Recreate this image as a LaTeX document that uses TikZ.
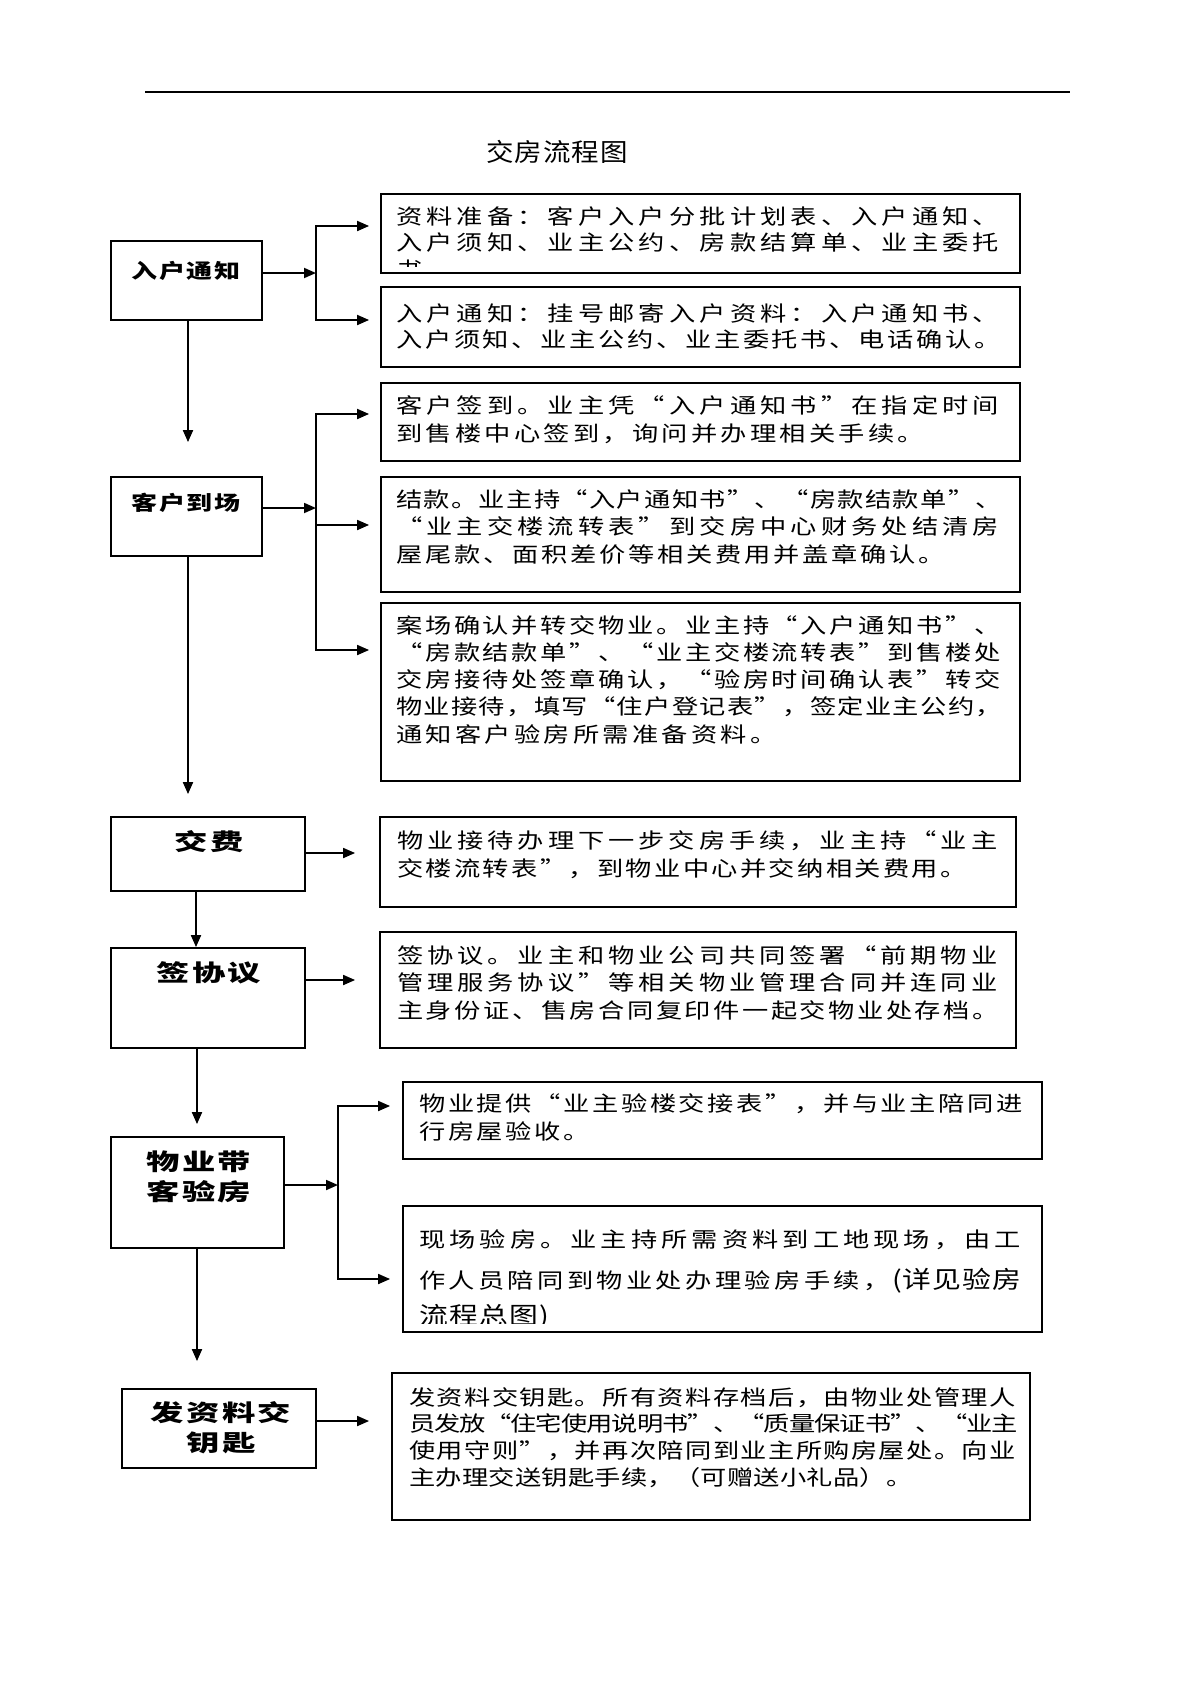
\documentclass[tikz,border=0pt]{standalone}
\usepackage{fontspec}
\usetikzlibrary{arrows.meta}
\newfontfamily\bodyf{Noto Sans CJK SC}[FakeStretch=1.25]
\newfontfamily\headA{Noto Sans CJK SC}[FakeStretch=1.3,LetterSpace=7]
\newfontfamily\headB{Noto Sans CJK SC}[FakeStretch=1.45,LetterSpace=10]
\newfontfamily\titlef{Noto Sans CJK SC}[FakeStretch=1.1,LetterSpace=4]
\newfontfamily\bigf{Noto Sans CJK SC}[FakeStretch=1.2]
\ExplSyntaxOn
\dim_new:N \l_my_pitch_dim
\cs_new_protected:Npn \my_cells:nn #1#2
  {
    \dim_set:Nn \l_my_pitch_dim {#1}
    \hbox:n
      {
        \tl_map_inline:nn {#2}
          { \hbox_to_wd:nn { \l_my_pitch_dim } { ##1 \hss } }
      }
  }
\NewDocumentCommand \CL { O{29.5pt} m } { \my_cells:nn {#1} {#2} }
\NewDocumentCommand \FL { m } { \my_cells:nn { \dim_eval:n { \mylinew / \tl_count:n {#1} } } {#1} }
\ExplSyntaxOff
\def\mylinew{607pt}
\newcommand\fbx[5]{\node[box, minimum width={#4-#2}, minimum height={#5-#3}] (#1) at ({(#2+#4)/2},{(#3+#5)/2}) {};}
\tikzset{
  box/.style={draw, line width=1.8pt, inner sep=0pt},
  arr/.style={line width=1.8pt, -{Triangle[length=12pt,width=10pt]}},
  barr/.style={line width=1.8pt, {Triangle[length=12pt,width=10pt]}-{Triangle[length=12pt,width=10pt]}},
  body/.style={inner sep=0pt, anchor=base west, font=\fontsize{21}{#1}\selectfont\bodyf},
  body/.default=27.5,
  heada/.style={inner sep=0pt, align=center, font=\fontsize{20}{30}\selectfont\headA\bfseries},
  headb/.style={inner sep=0pt, align=center, font=\fontsize{23}{30}\selectfont\headB\bfseries},
}
\begin{document}
\begin{tikzpicture}[x=1pt,y=-1pt]
\useasboundingbox (0,0) rectangle (1200,1698);
% top rule and title
\coordinate (ruleL) at (145,92);
\coordinate (ruleR) at (1070,92);
\draw[line width=2.5pt] (ruleL) -- (ruleR);
\node[inner sep=0pt, font=\fontsize{25}{25}\selectfont\titlef] (title) at (557,152) {交房流程图};

% left column boxes
\fbx{A}{111}{241}{262}{320}
\fbx{B}{111}{477}{262}{556}
\fbx{C}{111}{817}{305}{891}
\fbx{D}{111}{948}{305}{1048}
\fbx{E}{111}{1137}{284}{1248}
\fbx{F}{122}{1389}{316}{1468}
\node[heada] (tA) at (186,271) {入户通知};
\node[heada] (tB) at (186,503) {客户到场};
\node[headb] (tC) at (209,842) {交费};
\node[headb] (tD) at (209,973) {签协议};
\node[headb] (tE) at (199,1177) {物业带\\客验房};
\node[headb] (tF) at (221,1428) {发资料交\\钥匙};

% right column boxes
\fbx{b1}{381}{194}{1020}{273}
\fbx{b2}{381}{287}{1020}{367}
\fbx{b3}{381}{383}{1020}{461}
\fbx{b4}{381}{477}{1020}{592}
\fbx{b5}{381}{603}{1020}{781}
\fbx{b6}{380}{817}{1016}{907}
\fbx{b7}{380}{932}{1016}{1048}
\fbx{b8}{403}{1082}{1042}{1159}
\fbx{b9}{403}{1206}{1042}{1332}
\fbx{b10}{392}{1373}{1030}{1520}

% texts
\begin{scope}
\clip (381,194) rectangle (1020,266);
\node[body=26.7] (x1) at (396,224) {\vtop{\FL{资料准备：客户入户分批计划表、入户通知、}\FL{入户须知、业主公约、房款结算单、业主委托}\CL{书}}};
\end{scope}
\node[body=26] (x2) at (396,321) {\vtop{\FL{入户通知：挂号邮寄入户资料：入户通知书、}\FL{入户须知、业主公约、业主委托书、电话确认。}}};
\node[body=28] (x3) at (396,413) {\vtop{\FL{客户签到。业主凭“入户通知书”在指定时间}\CL{到售楼中心签到，询问并办理相关手续。}}};
\node[body=27.5] (x4) at (396,507) {\vtop{\FL{结款。业主持“入户通知书”、“房款结款单”、}\FL{“业主交楼流转表”到交房中心财务处结清房}\CL[29pt]{屋尾款、面积差价等相关费用并盖章确认。}}};
\node[body=27.25] (x5) at (396,633) {\vtop{\FL{案场确认并转交物业。业主持“入户通知书”、}\FL{“房款结款单”、“业主交楼流转表”到售楼处}\FL{交房接待处签章确认，“验房时间确认表”转交}\FL{物业接待，填写“住户登记表”，签定业主公约，}\CL{通知客户验房所需准备资料。}}};
\def\mylinew{604pt}
\node[body=28] (x6) at (397,848) {\vtop{\FL{物业接待办理下一步交房手续，业主持“业主}\CL[28.6pt]{交楼流转表”，到物业中心并交纳相关费用。}}};
\node[body=27.5] (x7) at (397,963) {\vtop{\FL{签协议。业主和物业公司共同签署“前期物业}\FL{管理服务协议”等相关物业管理合同并连同业}\FL{主身份证、售房合同复印件一起交物业处存档。}}};
\def\mylinew{606pt}
\node[body=28] (x8) at (419,1111) {\vtop{\FL{物业提供“业主验楼交接表”，并与业主陪同进}\CL[28.9pt]{行房屋验收。}}};
\begin{scope}
\clip (403,1206) rectangle (1042,1323);
\node[body=27] (x9) at (419,1247) {\vtop{\FL{现场验房。业主持所需资料到工地现场，由工}\vskip 14pt\hbox{\CL[29.6pt]{作人员陪同到物业处办理验房手续，}\fontsize{24}{27}\selectfont\bigf(\CL[30pt]{详见验房}}\vskip 9pt\hbox{\fontsize{24}{27}\selectfont\bigf\CL[30pt]{流程总图})}}};
\end{scope}
\def\mylinew{608pt}
\node[body=26.7] (x10) at (409,1405) {\vtop{\FL{发资料交钥匙。所有资料存档后，由物业处管理人}\FL{员发放“住宅使用说明书”、“质量保证书”、“业主}\FL{使用守则”，并再次陪同到业主所购房屋处。向业}\CL[26.5pt]{主办理交送钥匙手续，（可赠送小礼品）。}}};

% branch A
\coordinate (jA) at (316,273);
\coordinate (jA1) at (316,226);
\coordinate (jA2) at (316,320);
\draw[arr] (A.east |- jA) -- (jA);
\draw[barr, shorten <=11pt, shorten >=11pt] (jA1 -| b1.west) -- (jA1) -- (jA2) -- (jA2 -| b2.west);

% branch B
\coordinate (jB) at (316,508);
\coordinate (jB1) at (316,414);
\coordinate (jB2) at (316,525);
\coordinate (jB3) at (316,650);
\draw[arr] (B.east |- jB) -- (jB);
\draw[barr, shorten <=11pt, shorten >=11pt] (jB1 -| b3.west) -- (jB1) -- (jB3) -- (jB3 -| b5.west);
\draw[arr, shorten >=11pt] (jB2) -- (jB2 -| b4.west);

% C, D arrows
\coordinate (yC) at (0,853);
\coordinate (yD) at (0,980);
\draw[arr, shorten >=24pt] (C.east |- yC) -- (b6.west |- yC);
\draw[arr, shorten >=24pt] (D.east |- yD) -- (b7.west |- yD);

% branch E
\coordinate (jE) at (338,1185);
\coordinate (jE1) at (338,1106);
\coordinate (jE2) at (338,1279);
\draw[arr] (E.east |- jE) -- (jE);
\draw[barr, shorten <=12pt, shorten >=12pt] (jE1 -| b8.west) -- (jE1) -- (jE2) -- (jE2 -| b9.west);

% F arrow
\coordinate (yF) at (0,1421);
\draw[arr, shorten >=22pt] (F.east |- yF) -- (b10.west |- yF);

% vertical flow
\coordinate (c1) at (188,0);
\coordinate (c2) at (196,0);
\coordinate (c3) at (197,0);
\draw[arr, shorten >=34pt] (A.south -| c1) -- (B.north -| c1);
\draw[arr, shorten >=22pt] (B.south -| c1) -- (C.north -| c1);
\draw[arr] (C.south -| c2) -- (D.north -| c2);
\draw[arr, shorten >=12pt] (D.south -| c3) -- (E.north -| c3);
\draw[arr, shorten >=27pt] (E.south -| c3) -- (F.north -| c3);
\end{tikzpicture}
\end{document}
